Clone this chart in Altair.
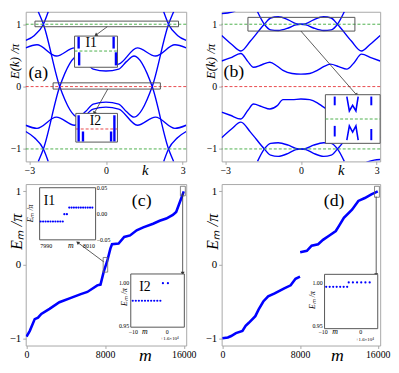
import math
import altair as alt
import pandas as pd

FONT = "Liberation Serif"
BLUE = "#0000ff"
GREEN = "#4cb04c"
RED = "#e8484c"
FRAME = "#a8a8a8"
INK = "#333333"
PI = 3.1416

# ======================= DATA =======================
# ---- (a) quasi-energy bands E(k)/pi ----
a_P_k = [-2.65, -2.45, -1.81, -1.10, -0.80, -0.50, 0.00, 0.50, 0.80, 1.10, 1.81, 2.45, 2.65]
a_Pu_E = [1.20, 1.00, 0.00, -0.49, -0.40, -0.28, -0.25, -0.28, -0.40, -0.49, 0.00, 1.00, 1.20]
a_Pd_E = [-1.20, -1.00, 0.00, 0.49, 0.40, 0.28, 0.25, 0.28, 0.40, 0.49, 0.00, -1.00, -1.20]
a_B_k = [-PI, -2.70, -1.94, -1.23, -0.50, 0.00, 0.50, 1.23, 1.94, 2.70, PI]
a_Bu_E = [0.62, 0.67, 0.49, 0.62, 0.36, 0.33, 0.36, 0.62, 0.49, 0.67, 0.62]
a_Bd_E = [-0.62, -0.67, -0.49, -0.62, -0.36, -0.33, -0.36, -0.62, -0.49, -0.67, -0.62]
a_AL_k = [-PI, -2.80, -2.45, -2.26]
a_AR_k = [2.26, 2.45, 2.80, PI]
a_ALu_E = [0.74, 0.82, 1.00, 1.20]
a_ARu_E = [1.20, 1.00, 0.82, 0.74]
a_ALd_E = [-0.72, -0.82, -1.00, -1.20]
a_ARd_E = [-1.20, -1.00, -0.82, -0.72]

# ---- (b) bands ----
b_W_k = [-PI, -2.80, -2.38, -2.10, -1.88, -1.55, -1.23, -0.95, -0.71, -0.35, 0.00,
         0.35, 0.65, 0.90, 1.17, 1.50, 1.82, 2.10, 2.40, 2.80, PI]
b_Wu_E = [0.41, 0.46, 0.53, 0.40, 0.31, 0.35, 0.39, 0.33, 0.26, 0.21, 0.20,
          0.21, 0.26, 0.32, 0.36, 0.32, 0.28, 0.38, 0.52, 0.46, 0.41]
b_Wd_E = [-0.41, -0.46, -0.52, -0.38, -0.28, -0.32, -0.36, -0.31, -0.21, -0.21, -0.20,
          -0.21, -0.26, -0.33, -0.39, -0.35, -0.31, -0.40, -0.53, -0.46, -0.41]
b_L_k = [-PI, -2.75, -2.38, -2.00, -1.45, -1.20, -0.90, -0.50, -0.20, 0.00,
         0.20, 0.50, 0.90, 1.20, 1.45, 2.00, 2.40, 2.75, PI]
b_Lu_E = [0.82, 0.68, 0.57, 0.73, 1.00, 1.10, 1.12, 1.07, 1.01, 1.00,
          1.01, 1.07, 1.12, 1.10, 1.00, 0.73, 0.57, 0.68, 0.82]
b_Ld_E = [-0.82, -0.68, -0.57, -0.73, -1.00, -1.10, -1.12, -1.07, -1.01, -1.00,
          -1.01, -1.07, -1.12, -1.10, -1.00, -0.73, -0.57, -0.68, -0.82]
b_T_k = [-1.72, -1.45, -1.20, -0.90, -0.50, -0.20, 0.00, 0.20, 0.50, 0.90, 1.20, 1.45, 1.72]
b_Tu_E = [1.20, 1.00, 0.91, 0.90, 0.94, 0.99, 1.00, 0.99, 0.94, 0.90, 0.91, 1.00, 1.20]
b_Td_E = [-1.20, -1.00, -0.91, -0.90, -0.94, -0.99, -1.00, -0.99, -0.94, -0.90, -0.91, -1.00, -1.20]
b_Cu_k = [-PI, -2.90, -2.60]
b_Cu_E = [1.17, 1.18, 1.21]
b_Cd_k = [2.60, 2.90, PI]
b_Cd_E = [-1.21, -1.18, -1.17]

# ---- (c) sorted quasi-energies E_m/pi ----
c_m = [0, 335, 836, 1170, 1506, 2340, 3345, 4518, 5522, 6190, 7200, 7530, 7865, 8200,
       8534, 8700, 9370, 9940, 10540, 11210, 11880, 12880, 13550, 14220, 14890, 15230, 15730, 16000]
c_E = [-0.98, -0.90, -0.74, -0.72, -0.67, -0.60, -0.51, -0.45, -0.40, -0.37, -0.28, -0.27, -0.09, 0.045,
       0.22, 0.28, 0.29, 0.38, 0.40, 0.47, 0.51, 0.56, 0.60, 0.63, 0.68, 0.72, 0.90, 1.00]

# ---- (d) ----
d1_m = [0, 560, 900, 1390, 2060, 2390, 2720, 3390, 3720, 4210, 4710, 5380, 6370, 7030, 7530, 7990]
d1_E = [-1.00, -0.99, -0.97, -0.93, -0.90, -0.83, -0.79, -0.70, -0.61, -0.50, -0.43, -0.39, -0.32, -0.28, -0.19, -0.16]
d2_m = [8010, 8700, 9190, 9860, 10360, 11020, 11680, 12010, 12510, 13350, 14000, 14670, 15340, 15840, 16000]
d2_E = [0.17, 0.19, 0.26, 0.28, 0.34, 0.40, 0.46, 0.53, 0.64, 0.75, 0.87, 0.91, 0.96, 0.99, 1.00]

# ---- inset contents (in host-panel coordinates) ----
aI1_k = [-1.07, -1.05, 0.30, 0.39]
aI1_E1 = [0.80, 0.55, 0.80, 0.55]
aI1_E2 = [0.61, 0.34, 0.61, 0.34]
aI2_k = [-1.07, -0.90, 0.20, 0.33]
aI2_E1 = [-0.46, -0.72, -0.72, -0.46]
aI2_E2 = [-0.88, -0.88, -0.88, -0.88]

bI_k = [1.34, 1.34, 2.79, 2.79]
bI_E1 = [-0.16, -0.63, -0.16, -0.68]
bI_E2 = [-0.30, -0.80, -0.30, -0.86]
bW_k = [1.82, 1.92, 2.05, 2.18, 2.27]
bW_E = [-0.16, -0.39, -0.30, -0.39, -0.16]
bM_E = [-0.86, -0.63, -0.73, -0.63, -0.86]

cI1_lo_m = [1440, 1690, 1940, 2190, 2440, 2690, 2940, 3190, 3440, 3690]
cI1_mid_m = [3850, 4110]
cI1_hi_m = [4350, 4585, 4820, 5055, 5290, 5525, 5760, 5995, 6230, 6465, 6700]
cI2_lo_m = [10810, 11122, 11434, 11746, 12058, 12370, 12682, 12994, 13306, 13620]
cI2_hi_m = [13880, 14390]
dI_lo_m = [10690, 11050, 11410, 11770, 12130, 12490, 12850]
dI_hi_m = [13010, 13440, 13870, 14300, 14730, 15170]

# ======================= HELPERS =======================
TOP_H, BOT_H = 152, 164
A_W, B_W = 163, 161


def x_axis(vals, title, lsize, tsize, tx, ty):
    return alt.Axis(values=vals, format="d", title=title, titleFont=FONT, titleFontStyle="italic",
                    titleFontWeight="normal", titleFontSize=tsize, titleX=tx, titleY=ty,
                    titleBaseline="alphabetic", titleAlign="center", titleColor="black",
                    labelFont=FONT, labelFontSize=lsize, labelColor="black", labelPadding=1,
                    tickSize=3, tickColor=FRAME, labelFlush=False, labelOverlap=False,
                    grid=False, domain=False)


def y_axis(vals, title, lsize, tsize, ty):
    return alt.Axis(values=vals, format="d", title=title, titleFont=FONT, titleFontStyle="italic",
                    titleFontWeight="normal", titleFontSize=tsize, titleAngle=270, titleX=-17,
                    titleY=ty, titleBaseline="top", titleAlign="center", titleColor="black",
                    labelFont=FONT, labelFontSize=lsize, labelColor="black", labelPadding=2,
                    tickSize=3, tickColor=FRAME, labelFlush=False, labelOverlap=False,
                    grid=False, domain=False)


class Panel:
    def __init__(self, xdom, ydom, w, h, xaxis, yaxis):
        self.xdom, self.ydom, self.w, self.h = xdom, ydom, w, h
        self.xs = alt.Scale(domain=xdom, nice=False, zero=False)
        self.ys = alt.Scale(domain=ydom, nice=False, zero=False)
        self.xaxis, self.yaxis = xaxis, yaxis
        self.layers = []

    def X(self, f="x"):
        return alt.X(f + ":Q", scale=self.xs, axis=self.xaxis)

    def Y(self, f="y"):
        return alt.Y(f + ":Q", scale=self.ys, axis=self.yaxis)

    def angle(self, x0, y0, x1, y1):
        dx = (x1 - x0) / (self.xdom[1] - self.xdom[0]) * self.w
        dy = -(y1 - y0) / (self.ydom[1] - self.ydom[0]) * self.h
        return math.degrees(math.atan2(dx, -dy)) % 360

    def add(self, layer):
        self.layers.append(layer)

    def chart(self):
        return alt.layer(*self.layers).properties(width=self.w, height=self.h)


def curves_df(curves):
    rows = []
    for name, (xs, ys) in curves.items():
        for i, (x, y) in enumerate(zip(xs, ys)):
            rows.append({"s": name, "x": x, "y": y, "o": i})
    return pd.DataFrame(rows)


def curves(p, cv, width=1.4, interp="monotone"):
    return alt.Chart(curves_df(cv)).mark_line(color=BLUE, strokeWidth=width, clip=True,
                                              interpolate=interp).encode(
        x=p.X(), y=p.Y(), detail="s:N", order="o:Q")


def hlines(p, ys, cols, dash=(3, 2), x0=None, x1=None):
    df = pd.DataFrame({"y": ys, "c": cols})
    enc = dict(y=p.Y(), color=alt.Color("c:N", scale=None))
    if x0 is not None:
        df["x"] = x0
        df["x2"] = x1
        enc.update(x=p.X(), x2=alt.X2("x2"))
    return alt.Chart(df).mark_rule(strokeDash=list(dash), strokeWidth=1).encode(**enc)


def boxes(p, x0, x1, y0, y1, fill=None, color="#555555", sw=1.0):
    df = pd.DataFrame({"x": x0, "x2": x1, "y": y0, "y2": y1})
    if fill:
        m = alt.Chart(df).mark_rect(fill=fill, stroke=color, strokeWidth=sw)
    else:
        m = alt.Chart(df).mark_rect(filled=False, color=color, strokeWidth=sw)
    return m.encode(x=p.X(), x2=alt.X2("x2"), y=p.Y(), y2=alt.Y2("y2"))


def segs(p, xs, y1, y2, width=2.0, color=BLUE):
    df = pd.DataFrame({"x": xs, "y": y1, "y2": y2})
    return alt.Chart(df).mark_rule(color=color, strokeWidth=width).encode(
        x=p.X(), y=p.Y(), y2=alt.Y2("y2"))


def arrow(p, x0, y0, x1, y1, color=INK):
    df = pd.DataFrame({"x": [x0], "y": [y0], "x2": [x1], "y2": [y1]})
    ln = alt.Chart(df).mark_rule(color=color, strokeWidth=0.8).encode(
        x=p.X(), y=p.Y(), x2=alt.X2("x2"), y2=alt.Y2("y2"))
    hd = pd.DataFrame({"x": [x1], "y": [y1], "a": [p.angle(x0, y0, x1, y1)]})
    head = alt.Chart(hd).mark_point(shape="triangle", filled=True, size=16, color=color,
                                    opacity=1).encode(
        x=p.X(), y=p.Y(), angle=alt.Angle("a:Q", scale=None))
    return ln + head


def texts(p, xs, ys, ts, size=10, italic=False, align="center", baseline="middle", angle=0):
    df = pd.DataFrame({"x": xs, "y": ys, "t": ts})
    kw = dict(font=FONT, fontSize=size, align=align, baseline=baseline, color="black")
    if italic:
        kw["fontStyle"] = "italic"
    if angle:
        kw["angle"] = angle
    return alt.Chart(df).mark_text(**kw).encode(x=p.X(), y=p.Y(), text="t:N")


def dots(p, xs, y, size=5):
    df = pd.DataFrame({"x": xs, "y": [y] * len(xs)})
    return alt.Chart(df).mark_circle(color=BLUE, size=size, opacity=1).encode(x=p.X(), y=p.Y())


KX = x_axis([-3, 0, 3], "k", 10, 15, 121, 13)
KY = y_axis([-1, 0, 1], "E(k) /π", 10, 13, 50)

# ======================= PANEL (a) =======================
pa = Panel([-PI, PI], [-1.2, 1.2], A_W, TOP_H, KX, KY)
pa.add(curves(pa, {"Pu": (a_P_k, a_Pu_E), "Pd": (a_P_k, a_Pd_E), "Bu": (a_B_k, a_Bu_E),
                   "Bd": (a_B_k, a_Bd_E), "ALu": (a_AL_k, a_ALu_E), "ARu": (a_AR_k, a_ARu_E),
                   "ALd": (a_AL_k, a_ALd_E), "ARd": (a_AR_k, a_ARd_E)}))
pa.add(hlines(pa, [1, -1, 0], [GREEN, GREEN, RED]))
pa.add(boxes(pa, [-2.78, -2.07], [2.84, 2.13], [0.96, -0.04], [1.05, 0.06]))
pa.add(arrow(pa, 0.05, 0.96, -0.38, 0.83))
pa.add(arrow(pa, 0.07, -0.04, -0.45, -0.42))
pa.add(boxes(pa, [-1.23, -1.18], [0.45, 0.45], [0.31, -0.89], [0.81, -0.43], fill="white"))
pa.add(hlines(pa, [0.57], [GREEN], x0=-1.23, x1=0.45))
pa.add(hlines(pa, [-0.68], [RED], x0=-1.18, x1=0.45))
pa.add(segs(pa, aI1_k, aI1_E1, aI1_E2, width=2.4))
pa.add(segs(pa, aI2_k, aI2_E1, aI2_E2, width=2.4))
pa.add(texts(pa, [-0.58, -0.41], [0.70, -0.56], ["I1", "I2"], size=14))
pa.add(texts(pa, [-2.65], [0.21], ["(a)"], size=18))

# ======================= PANEL (b) =======================
pb = Panel([-PI, PI], [-1.2, 1.2], B_W, TOP_H, KX, KY)
pb.add(curves(pb, {"Wu": (b_W_k, b_Wu_E), "Wd": (b_W_k, b_Wd_E), "Lu": (b_L_k, b_Lu_E),
                   "Ld": (b_L_k, b_Ld_E), "Tu": (b_T_k, b_Tu_E), "Td": (b_T_k, b_Td_E),
                   "Cu": (b_Cu_k, b_Cu_E), "Cd": (b_Cd_k, b_Cd_E)}))
pb.add(hlines(pb, [1, -1, 0], [GREEN, GREEN, RED]))
pb.add(boxes(pb, [-2.10], [2.14], [0.89], [1.11]))
pb.add(arrow(pb, 0.0, 0.89, 2.2, -0.13))
pb.add(boxes(pb, [0.97], [3.14], [-0.91], [-0.13], fill="white"))
pb.add(hlines(pb, [-0.52], [GREEN], x0=0.97, x1=3.14))
pb.add(segs(pb, bI_k, bI_E1, bI_E2, width=2.0))
pb.add(curves(pb, {"W": (bW_k, bW_E), "M": (bW_k, bM_E)}, width=1.6, interp="linear"))
pb.add(texts(pb, [-2.66], [0.23], ["(b)"], size=18))

# ======================= PANEL (c) =======================
MD = [-80, 16250]
pc = Panel(MD, [-1.1, 1.1], A_W, BOT_H,
           x_axis([0, 8000, 16000], "m", 10, 18, 121, 15),
           y_axis([-1, 0, 1], "Eₘ /π", 11, 16, 48))
pc.add(curves(pc, {"c": (c_m, c_E)}, width=2.6, interp="linear"))
pc.add(boxes(pc, [7800, 15660], [8260, 16160], [-0.10, 0.94], [0.10, 1.07], color="#666666", sw=0.8))
pc.add(arrow(pc, 7860, 0.04, 5250, 0.30))
pc.add(arrow(pc, 15890, 0.98, 15890, -0.11))
pc.add(boxes(pc, [1335, 10610], [7030, 16060], [0.34, -0.85], [1.05, -0.125], fill="white"))
pc.add(dots(pc, cI1_lo_m, 0.59))
pc.add(dots(pc, cI1_mid_m, 0.69))
pc.add(dots(pc, cI1_hi_m, 0.78))
pc.add(dots(pc, cI2_lo_m, -0.49))
pc.add(dots(pc, cI2_hi_m, -0.25))
pc.add(texts(pc, [2340, 12050], [0.87, -0.31], ["I1", "I2"], size=14))
pc.add(texts(pc, [7150, 7150, 7150], [1.05, 0.69, 0.34], ["0.05", "0.00", "−0.05"], size=6, align="left"))
pc.add(texts(pc, [2010, 6355], [0.25, 0.25], ["7990", "8010"], size=6))
pc.add(texts(pc, [4518, 12050], [0.25, -0.92], ["m", "m"], size=8, italic=True))
pc.add(texts(pc, [10450, 10450], [-0.25, -0.83], ["1.00", "0.95"], size=6, align="right"))
pc.add(texts(pc, [10870, 14330], [-0.92, -0.92], ["−10", "0"], size=6))
pc.add(texts(pc, [14560], [-1.0], ["+1.6×10⁴"], size=5))
pc.add(texts(pc, [500, 10040], [0.70, -0.44], ["Eₘ /π", "Eₘ /π"], size=8, italic=True, angle=270))
pc.add(texts(pc, [11720], [0.87], ["(c)"], size=18))

# ======================= PANEL (d) =======================
pd_ = Panel(MD, [-1.1, 1.1], B_W, BOT_H,
            x_axis([0, 8000, 16000], "m", 10, 18, 117, 15),
            y_axis([-1, 0, 1], "Eₘ /π", 11, 16, 48))
pd_.add(curves(pd_, {"d1": (d1_m, d1_E), "d2": (d2_m, d2_E)}, width=2.6, interp="linear"))
pd_.add(boxes(pd_, [15670], [16170], [0.92], [1.07], color="#666666", sw=0.8))
pd_.add(arrow(pd_, 15840, 0.93, 15840, -0.13))
pd_.add(boxes(pd_, [10520], [16000], [-0.87], [-0.13], fill="white"))
pd_.add(dots(pd_, dI_lo_m, -0.30))
pd_.add(dots(pd_, dI_hi_m, -0.24))
pd_.add(texts(pd_, [10330, 10330], [-0.25, -0.83], ["1.00", "0.95"], size=6, align="right"))
pd_.add(texts(pd_, [10360, 14240], [-0.92, -0.92], ["−10", "0"], size=6))
pd_.add(texts(pd_, [11610], [-0.92], ["m"], size=8, italic=True))
pd_.add(texts(pd_, [14670], [-1.01], ["+1.6×10⁴"], size=5))
pd_.add(texts(pd_, [9360], [-0.48], ["Eₘ /π"], size=8, italic=True, angle=270))
pd_.add(texts(pd_, [11510], [0.87], ["(d)"], size=18))

chart = alt.concat(
    pa.chart(), pb.chart(), pc.chart(), pd_.chart(),
    columns=2,
    spacing=alt.RowColnumber(row=23, column=36),
    bounds="flush",
).properties(
    padding={"left": 0, "top": 0, "right": 0, "bottom": 0}
).configure_view(stroke=FRAME, strokeWidth=1).configure_axis(grid=False)

chart.save("out.html", embed_options={"renderer": "svg", "actions": False})
